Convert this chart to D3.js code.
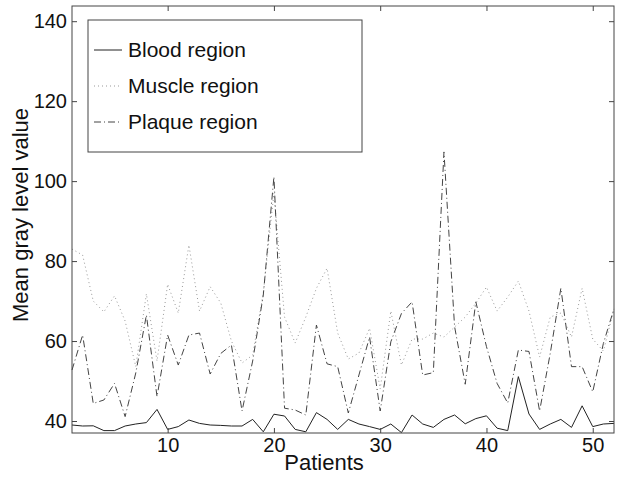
<!DOCTYPE html>
<html>
<head>
<meta charset="utf-8">
<script src="https://cdn.jsdelivr.net/npm/d3@7"></script>
<style>
  body { margin: 0; background: #fff; }
  svg text { font-family: "Liberation Sans", Arial, Helvetica, sans-serif; fill: #111; }
</style>
</head>
<body>
<div id="chart"></div>
<script>
// patient index 1..52
const patients = d3.range(1, 53);

const blood = [39, 38.75, 38.8, 37.6, 37.6, 38.75, 39.25, 39.6, 42.9, 37.9,
    38.6, 40.25, 39.4, 39, 38.9, 38.75, 38.75, 40.4, 37.3, 41.7,
    41.25, 37.9, 37.3, 42.1, 40.4, 37.9, 40.4, 39.25, 38.6, 37.9,
    39.25, 37.1, 41.5, 39.25, 38.4, 40.4, 41.5, 39.3, 40.6, 41.3,
    38.2, 37.6, 51.1, 41.75, 37.9, 39.25, 40.4, 38.4, 43.8, 38.6,
    39.25, 39.4];

const muscle = [83, 81.5, 70, 67.3, 71.3, 65, 53.6, 71.8, 55, 74.2,
    67, 84, 67.5, 73.6, 69.5, 60, 54.5, 56.5, 72, 97,
    66, 59.5, 66, 73.2, 78.2, 62, 55.5, 57, 63.2, 48,
    67.5, 54, 60.5, 60.5, 62, 61, 63.5, 66, 69.5, 73.5,
    67.5, 71, 75, 67.5, 56, 66, 67, 61, 73.2, 60.5,
    57.5, 68];

const plaque = [52.75, 61.5, 44.4, 45.25, 49.4, 41.1, 52, 66.5, 46.1, 61.5,
    54, 61.5, 62, 51.75, 56.9, 59, 42.5, 55, 71.5, 101.1,
    43.2, 42.75, 41.5, 64, 54.3, 53.6, 42, 51.5, 61, 42.5,
    59.8, 66.9, 69.8, 51.5, 52.1, 107.3, 63.6, 49.2, 69.8, 58.6,
    49.4, 44.5, 57.75, 57.4, 42.5, 56.9, 73.2, 53.6, 53.6, 47.3,
    59.4, 68.1];

const xTicks = [10, 20, 30, 40, 50];
const yTicks = [40, 60, 80, 100, 120, 140];

const series = [
    { name: "Blood region", values: blood, color: "#222", dash: null },
    { name: "Muscle region", values: muscle, color: "#999", dash: "1,3" },
    { name: "Plaque region", values: plaque, color: "#444", dash: "7,3,1,3" }
];

const W = 617, H = 483;
const margin = { top: 6, right: 3, bottom: 50, left: 72 };
const width = W - margin.left - margin.right;
const height = H - margin.top - margin.bottom;

const svg = d3.select("#chart")
    .append("svg")
    .attr("width", W)
    .attr("height", H);

const g = svg.append("g")
    .attr("transform", `translate(${margin.left},${margin.top})`);

const x = d3.scaleLinear().domain([1, 52]).range([0, width]);
const y = d3.scaleLinear().domain([37, 143.8]).range([height, 0]);

const line = d3.line()
    .x((d, i) => x(patients[i]))
    .y(d => y(d));

// data lines
series.forEach(s => {
    g.append("path")
        .datum(s.values)
        .attr("fill", "none")
        .attr("stroke", s.color)
        .attr("stroke-width", 1)
        .attr("stroke-dasharray", s.dash)
        .attr("d", line);
});

// axes, matlab style: ticks inside, on all four sides
const tickLen = 5;
g.append("g")
    .attr("transform", `translate(0,${height})`)
    .call(d3.axisBottom(x).tickValues(xTicks).tickSizeInner(-tickLen).tickSizeOuter(0).tickPadding(5))
    .call(a => a.selectAll("text").style("font-size", "20px"));
g.append("g")
    .call(d3.axisTop(x).tickValues(xTicks).tickSizeInner(-tickLen).tickSizeOuter(0).tickFormat(""));
g.append("g")
    .call(d3.axisLeft(y).tickValues(yTicks).tickSizeInner(-tickLen).tickSizeOuter(0).tickPadding(5))
    .call(a => a.selectAll("text").style("font-size", "20px"));
g.append("g")
    .attr("transform", `translate(${width},0)`)
    .call(d3.axisRight(y).tickValues(yTicks).tickSizeInner(-tickLen).tickSizeOuter(0).tickFormat(""));

g.selectAll(".domain").remove();
g.selectAll(".tick line").attr("stroke", "#444");
g.selectAll(".tick text").attr("fill", "#111");

g.append("rect")
    .attr("width", width)
    .attr("height", height)
    .attr("fill", "none")
    .attr("stroke", "#444")
    .attr("stroke-width", 1);

// axis labels
svg.append("text")
    .attr("x", 324)
    .attr("y", 470)
    .attr("text-anchor", "middle")
    .style("font-size", "22px")
    .text("Patients");

svg.append("text")
    .attr("transform", "translate(28,215) rotate(-90)")
    .attr("text-anchor", "middle")
    .style("font-size", "22px")
    .text("Mean gray level value");

// legend
const legend = svg.append("g").attr("transform", "translate(88,20)");
legend.append("rect")
    .attr("width", 274)
    .attr("height", 132)
    .attr("fill", "#fff")
    .attr("stroke", "#444");

series.forEach((s, i) => {
    const ly = 30 + i * 36;
    legend.append("line")
        .attr("x1", 6).attr("x2", 34)
        .attr("y1", ly).attr("y2", ly)
        .attr("stroke", s.color)
        .attr("stroke-dasharray", s.dash);
    legend.append("text")
        .attr("x", 40)
        .attr("y", ly + 7)
        .style("font-size", "21px")
        .text(s.name);
});
</script>
</body>
</html>
